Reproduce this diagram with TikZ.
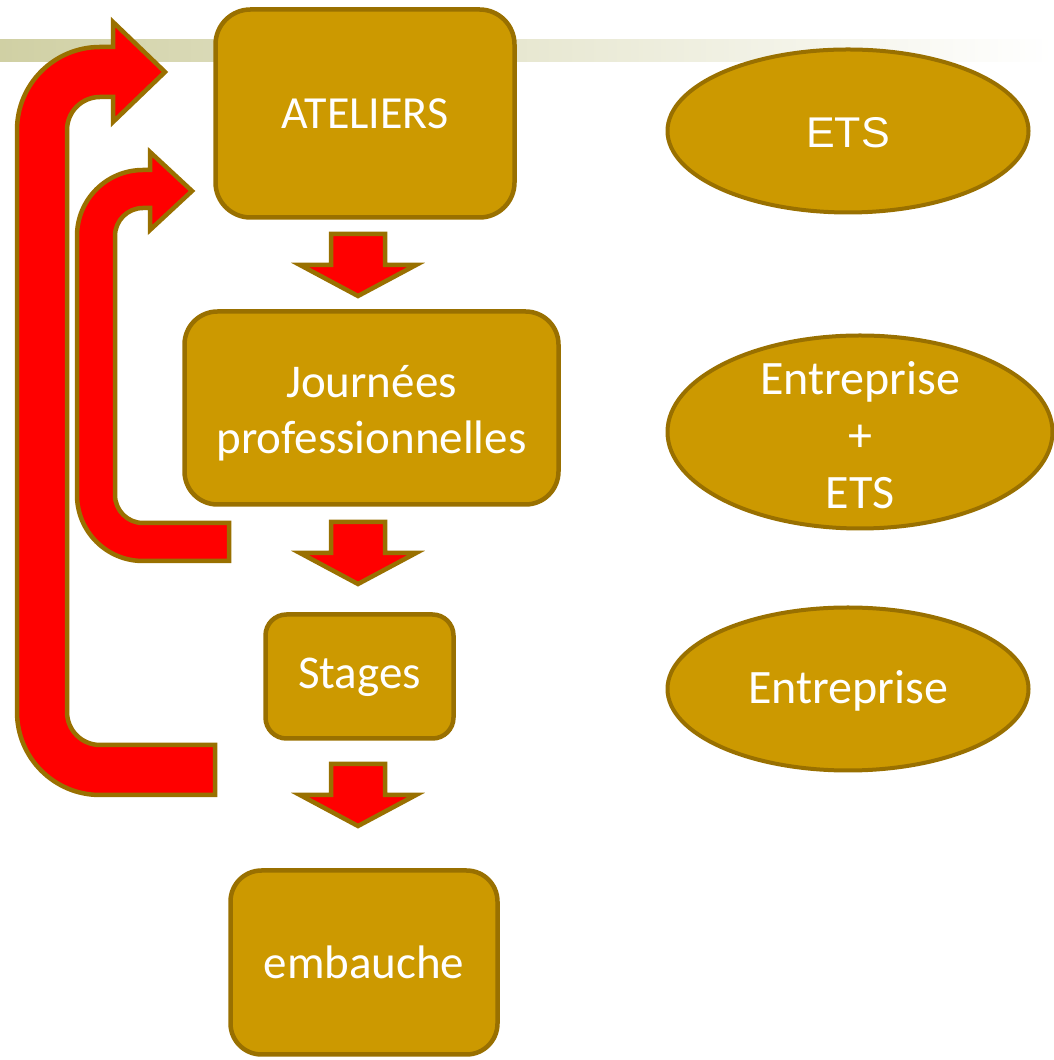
\documentclass[tikz,border=0pt]{standalone}
\usepackage{fontspec}
\setmainfont{Carlito}
\newfontfamily\arialfont{Liberation Sans}
\usetikzlibrary{shapes.geometric}

\definecolor{gold}{RGB}{204,153,0}
\definecolor{goldline}{RGB}{153,112,0}
\definecolor{barleft}{RGB}{208,208,164}

\tikzset{
  roundbox/.style={draw=goldline,fill=gold,line width=4.5pt,text=white,align=center,inner sep=0pt,font=\fontsize{47}{56}\selectfont},
  oval/.style={ellipse,draw=goldline,fill=gold,line width=4pt,text=white,align=center,inner sep=0pt,font=\fontsize{48}{57}\selectfont},
  redarrow/.style={draw=goldline,fill=red,line width=4.5pt,line join=miter},
}

\begin{document}
\begin{tikzpicture}[x=1pt,y=1pt]

\useasboundingbox (0,0) rectangle (1053,1060);

% bar along the top
\shade [left color=barleft,right color=white,shading=axis] (0,998) rectangle (1053,1020);

\node (ateliers)	at (365,946.5)	[roundbox,rounded corners=35pt,minimum width=299pt,minimum height=208pt,text height=36pt,text depth=5pt,font=\fontsize{46}{55}\selectfont] {ATELIERS};
\node (journees)	at (371.5,652)	[roundbox,rounded corners=33pt,minimum width=374pt,minimum height=193pt,text height=100pt,text depth=9pt] {Journées\\professionnelles};
\node (stages)		at (359.5,383.5)	[roundbox,rounded corners=21pt,minimum width=188pt,minimum height=124pt,text height=30pt,text depth=5pt] {Stages};
\node (embauche)	at (364,97.5)	[roundbox,rounded corners=31pt,minimum width=267pt,minimum height=184pt,text height=38pt,text depth=5pt] {embauche};

\node (ets)		at (848,929)	[oval,minimum width=361pt,minimum height=163pt,text height=39pt,text depth=5pt,font=\arialfont\fontsize{43}{50}\selectfont] {ETS};
\node (entrets)	at (860,628)	[oval,inner sep=-30pt,minimum width=385pt,minimum height=193pt,text height=153pt,text depth=0pt] {Entreprise\\+\\ETS};
\node (entr)		at (848,371)	[oval,minimum width=361pt,minimum height=163pt,text height=35pt,text depth=5pt] {Entreprise};

% block arrows between the steps
\coordinate (d1) at (358,826);
\coordinate (d2) at (358,538);
\coordinate (d3) at (358,296);
\draw [redarrow] (d1) ++(-27,0) -- ++(54,0) -- ++(0,-31) -- ++(31,0) -- ++(-58,-31) -- ++(-58,31) -- ++(31,0) -- cycle;
\draw [redarrow] (d2) ++(-27,0) -- ++(54,0) -- ++(0,-31) -- ++(31,0) -- ++(-58,-31) -- ++(-58,31) -- ++(31,0) -- cycle;
\draw [redarrow] (d3) ++(-27,0) -- ++(54,0) -- ++(0,-31) -- ++(31,0) -- ++(-58,-31) -- ++(-58,31) -- ++(31,0) -- cycle;

% loop back from Stages
\draw [redarrow] (215,315) -- (100,315) arc[start angle=270,end angle=180,radius=33]
  -- (67,930) arc[start angle=180,end angle=90,radius=33]
  -- (113,963) -- (113,938) -- (165,988) -- (113,1038) -- (113,1013) -- (100,1013)
  arc[start angle=90,end angle=180,radius=83]
  -- (17,348) arc[start angle=180,end angle=270,radius=83]
  -- (215,265) -- cycle;

% loop back from Journees
\draw [redarrow] (229,537) -- (143,537) arc[start angle=270,end angle=180,radius=28]
  -- (115,824) arc[start angle=180,end angle=90,radius=28]
  -- (150,852) -- (150,830) -- (192,869) -- (150,908) -- (150,890) -- (143,890)
  arc[start angle=90,end angle=180,radius=66]
  -- (77,565) arc[start angle=180,end angle=270,radius=66]
  -- (229,499) -- cycle;

\end{tikzpicture}
\end{document}
